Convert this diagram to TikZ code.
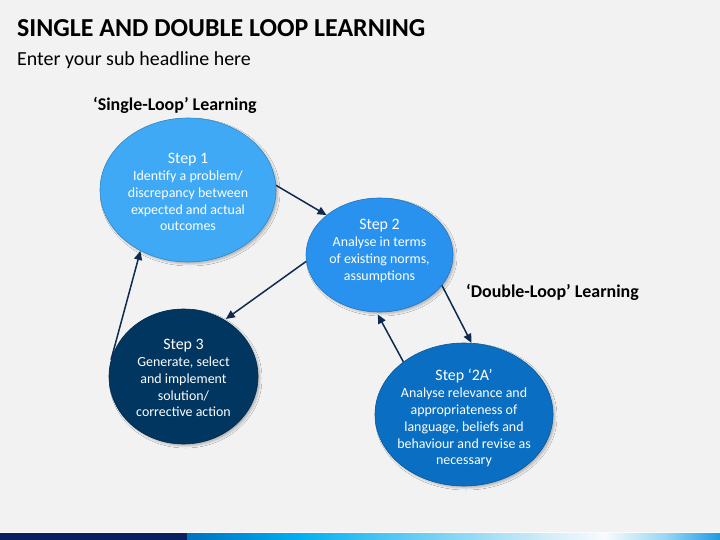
\documentclass[tikz,border=0pt]{standalone}
\usepackage{fontspec}
\setmainfont{Carlito}
\usetikzlibrary{shapes.geometric,arrows.meta,shadows.blur}
\definecolor{bg}{HTML}{F2F2F2}
\definecolor{cA}{HTML}{3FA9F5}
\definecolor{cB}{HTML}{2992EF}
\definecolor{cC}{HTML}{003660}
\definecolor{cD}{HTML}{0A6FC2}
\definecolor{arrowc}{HTML}{0F2A4F}
\definecolor{navy}{HTML}{0B1F5E}
\definecolor{g1}{HTML}{0070C0}
\definecolor{g2}{HTML}{00B0F0}
\definecolor{g3}{HTML}{6CCDF2}
\definecolor{g4}{HTML}{CDEBF8}
\definecolor{g5}{HTML}{F8FBFD}
\definecolor{g6}{HTML}{9AD6F4}
\definecolor{g7}{HTML}{1E9AE0}
\begin{document}
\begin{tikzpicture}[x=1bp,y=-1bp,
  stepell/.style={ellipse, inner sep=0pt, draw=#1!80!black, line width=0.6bp, fill=#1,
    blur shadow={shadow xshift=2bp, shadow yshift=-2bp, shadow opacity=25, shadow blur radius=2bp, shadow blur extra rounding=0bp}},
  steptxt/.style={text=white, align=center, font=\fontsize{14}{17}\selectfont, inner sep=0pt},
  arr/.style={draw=arrowc, line width=1.5bp, -{Triangle[length=9bp,width=8bp]}},
  headtxt/.style={font=\bfseries\fontsize{18}{20}\selectfont, inner sep=0pt, anchor=base west}
]
\useasboundingbox (0,0) rectangle (720,540);
\fill[bg] (0,0) rectangle (720,540);

% title
\node[anchor=base west, inner sep=0pt, font=\bfseries\fontsize{26}{28}\selectfont] (title) at (17,37) {SINGLE AND DOUBLE LOOP LEARNING};
\node[anchor=base west, inner sep=0pt, font=\fontsize{20}{22}\selectfont] (sub) at (17,66) {Enter your sub headline here};

\node[headtxt] (single) at (93,111) {‘Single-Loop’ Learning};
\node[headtxt] (double) at (466,297) {‘Double-Loop’ Learning};

% ellipses
\node[stepell=cA, minimum width=176bp, minimum height=144bp] (s1) at (188,190) {};
\node[stepell=cB, minimum width=147bp, minimum height=114bp] (s2) at (379.5,255) {};
\node[stepell=cC, minimum width=149bp, minimum height=135bp] (s3) at (183.5,376.5) {};
\node[stepell=cD, minimum width=178bp, minimum height=143bp] (s2a) at (464,414.5) {};

\node[steptxt] (t1) at (188,192) {{\fontsize{16}{17}\selectfont Step 1}\\Identify a problem/\\discrepancy between\\expected and actual\\outcomes};
\node[steptxt] (t2) at (379.5,251) {{\fontsize{16}{17}\selectfont Step 2}\\Analyse in terms\\of existing norms,\\assumptions};
\node[steptxt] (t3) at (183.5,378) {{\fontsize{16}{17}\selectfont Step 3}\\Generate, select\\and implement\\solution/\\corrective action};
\node[steptxt] (t2a) at (464,418) {{\fontsize{16}{17}\selectfont Step ‘2A’}\\Analyse relevance and\\appropriateness of\\language, beliefs and\\behaviour and revise as\\necessary};

% connectors
\draw[arr] (s1.3) -- (s2.143);
\draw[arr, shorten >=1.5bp] (s2.185) -- (s3.54);
\draw[arr] (s3.167.5) -- (s1.232.7);
\draw[arr] (s2.-26) -- (s2a.84);
\draw[arr, shorten >=2.5bp] (s2a.139) -- (s2.-93);

% bottom bar
\fill[white!70!bg] (0,532) rectangle (720,533);
\fill[navy] (0,533) rectangle (187,540);
\shade[left color=g1, right color=g2] (187,533) rectangle (300,540);
\shade[left color=g2, right color=g3] (300,533) rectangle (420,540);
\shade[left color=g3, right color=g4] (420,533) rectangle (540,540);
\shade[left color=g4, right color=g5] (540,533) rectangle (605,540);
\shade[left color=g5, right color=g6] (605,533) rectangle (665,540);
\shade[left color=g6, right color=g7] (665,533) rectangle (720,540);
\end{tikzpicture}
\end{document}
